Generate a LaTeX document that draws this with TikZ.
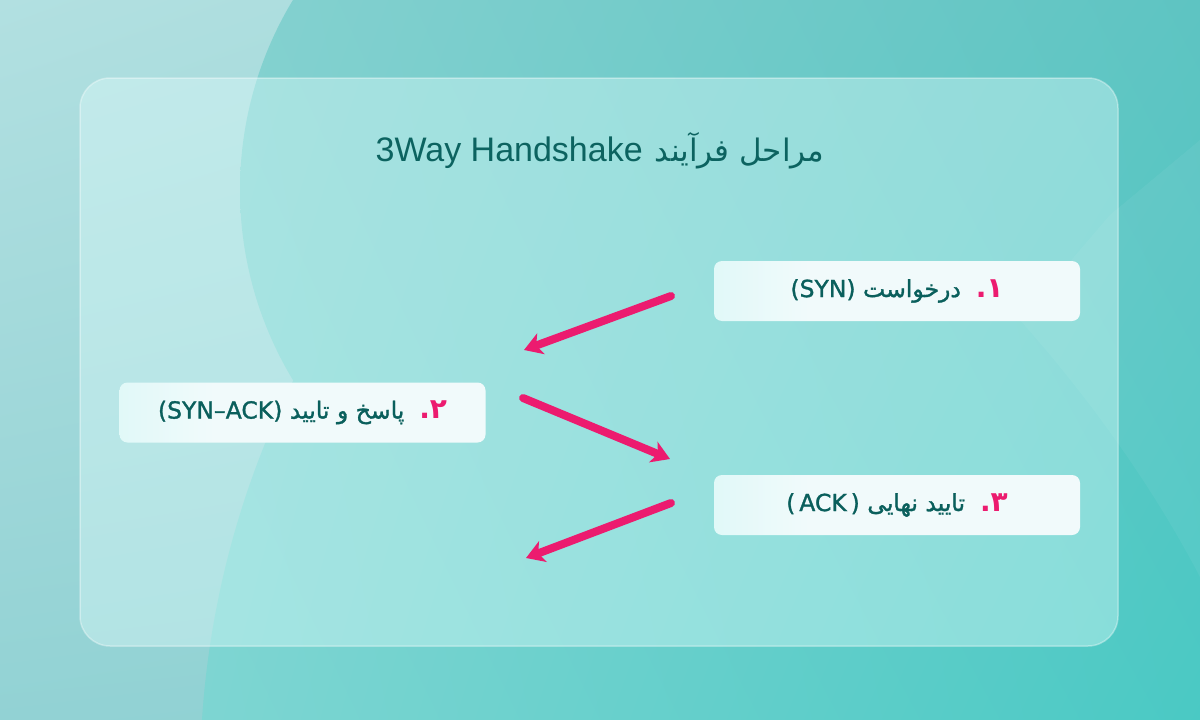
\documentclass[tikz,border=0pt]{standalone}
\usepackage{fontspec}
\TeXXeTstate=1
\newfontfamily\fa[Script=Arabic]{DejaVu Sans}
\newfontfamily\faM[Script=Arabic,FakeBold=1.3]{DejaVu Sans}
\newfontfamily\lat{Liberation Sans}
\newfontfamily\latM[FakeBold=1.3]{DejaVu Sans}
\usetikzlibrary{arrows.meta,shadings}
\definecolor{txtc}{HTML}{0A5F5C}
\definecolor{titlec}{HTML}{0C6360}
\definecolor{pinkc}{HTML}{EC1B6F}
\definecolor{boxL}{HTML}{C2F7F3}
\definecolor{boxR}{HTML}{F1FAFB}
\definecolor{panelc}{HTML}{E4FFFE}
\definecolor{outUL}{HTML}{B2E0E1}
\definecolor{outUR}{HTML}{A0D8D8}
\definecolor{outLL}{HTML}{92D2D4}
\definecolor{outLR}{HTML}{8CD0D0}
\definecolor{inUL}{HTML}{8ED4D3}
\definecolor{inUR}{HTML}{5EC4C2}
\definecolor{inLL}{HTML}{88D8D5}
\definecolor{inLR}{HTML}{4AC9C4}
\pgfdeclarehorizontalshading{boxshade}{100bp}{color(0bp)=(boxL); color(38bp)=(boxR); color(100bp)=(boxR)}
\newcommand{\stepnum}[1]{{\color{pinkc}\fa\bfseries\fontsize{28}{30}\selectfont\beginR #1\endR}}
\tikzset{
  stepbox/.style={shade, shading=boxshade, rounded corners=8pt, minimum width=366pt, minimum height=60pt, inner sep=0pt, text=txtc, font=\faM\fontsize{23.5}{27}\selectfont},
  flow/.style={draw=pinkc, line width=8pt, line cap=round, -{Stealth[length=18pt,width=22pt,inset=5pt]}},
  panelbox/.style={fill=panelc, fill opacity=0.38, draw=white, draw opacity=0.35, line width=1.5pt, rounded corners=30pt, minimum width=1038pt, minimum height=568pt},
  outbg/.style={upper left=outUL, upper right=outUR, lower left=outLL, lower right=outLR},
  inbg/.style={upper left=inUL, upper right=inUR, lower left=inLL, lower right=inLR},
}
\begin{document}
\begin{tikzpicture}[x=1pt,y=-1pt]
\useasboundingbox (0,0) rectangle (1200,720);
\clip (0,0) rectangle (1200,720);
% lighter outer background
\shade[outbg] (0,0) rectangle (1200,720);
% darker teal circles
\begin{scope}
\clip (607,190) circle (367pt);
\shade[inbg] (0,0) rectangle (1200,720);
\end{scope}
\begin{scope}
\clip (1100,780) circle (900pt);
\shade[inbg] (0,0) rectangle (1200,720);
\end{scope}
% faint facet on the right
\fill[white, opacity=0.05] (1200,140) -- (1110,215) -- (1020,320) .. controls (1100,410) and (1160,500) .. (1200,577) -- cycle;
% panel
\node[panelbox] (panel) at (599,362) {};
% title
\node[text=titlec] (title) at (600,151)
  {{\lat\fontsize{34}{40}\selectfont 3Way Handshake}\hspace{12pt}{\fa\fontsize{31}{40}\selectfont\beginR مراحل فرآیند\endR}};
% step boxes
\node[stepbox] (b1) at (897,291) {{\latM (SYN)}\ \beginR درخواست\endR\ \ \stepnum{۱.}};
\node[stepbox] (b2) at (302.5,412.5) {{\latM (SYN–ACK)}\ \beginR پاسخ و تایید\endR\ \ \stepnum{۲.}};
\node[stepbox] (b3) at (897,505) {{\latM (\,ACK\,)}\ \beginR تایید نهایی\endR\ \ \stepnum{۳.}};
% arrows
\coordinate (a1s) at (671,296);
\coordinate (a1e) at (524,350);
\coordinate (a2s) at (523,398);
\coordinate (a2e) at (670,459);
\coordinate (a3s) at (671,503);
\coordinate (a3e) at (526,558);
\draw[flow] (a1s) -- (a1e);
\draw[flow] (a2s) -- (a2e);
\draw[flow] (a3s) -- (a3e);
\end{tikzpicture}
\end{document}
